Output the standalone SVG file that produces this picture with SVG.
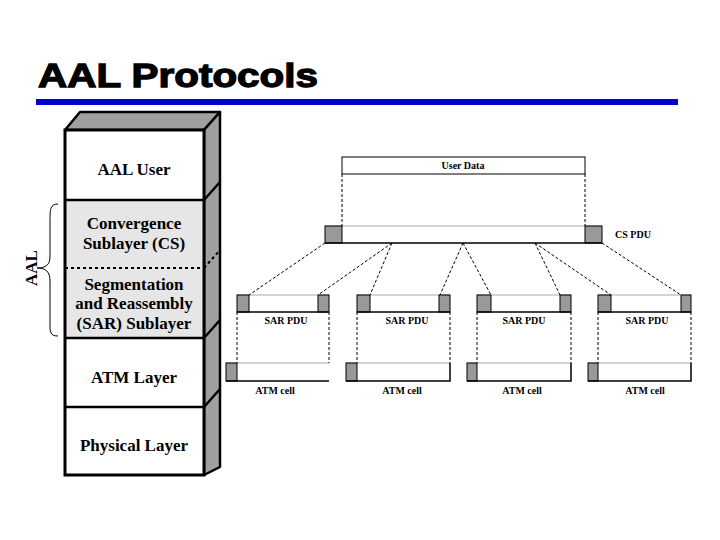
<svg xmlns="http://www.w3.org/2000/svg" width="720" height="540" viewBox="0 0 720 540">
<style>
.title{font-family:"Liberation Sans",Arial,sans-serif;font-weight:bold;font-size:34px;fill:#000;stroke:#000;stroke-width:1.3}
.lbl{font-family:"Liberation Serif","Times New Roman",serif;font-weight:bold;font-size:17px;fill:#000;text-anchor:middle}
.sm{font-family:"Liberation Serif","Times New Roman",serif;font-weight:bold;font-size:10px;fill:#000;text-anchor:middle}
.side{fill:#a0a0a0;stroke:#000;stroke-width:2.5;stroke-linejoin:round}
.div{stroke:#000;stroke-width:2.5}
.dot{stroke:#000;stroke-width:2;stroke-dasharray:3,3}
.dash{stroke:#000;stroke-width:1;stroke-dasharray:3,2;fill:none}
.gray{fill:#999;stroke:#000;stroke-width:1}
.top{stroke:#aaa;stroke-width:1.2}
.edge{fill:none;stroke:#000;stroke-width:1.5}
</style>
<rect width="720" height="540" fill="#fff"/>
<text class="title" x="38" y="87" textLength="280" lengthAdjust="spacingAndGlyphs">AAL Protocols</text>
<rect x="36" y="99" width="642" height="6" fill="#0000cc"/>

<g id="stack">
  <polygon class="side" points="65,130 80,112 220,112 204,130"/>
  <polygon class="side" points="204,130 220,112 220,467 204,475"/>
  <rect x="65" y="130" width="139" height="70" fill="#fff"/>
  <rect x="65" y="200" width="139" height="138" fill="#e6e6e6"/>
  <rect x="65" y="338" width="139" height="137" fill="#fff"/>
  <line class="div" x1="65" y1="200" x2="204" y2="200"/>
  <line class="div" x1="204" y1="200" x2="220" y2="182"/>
  <line class="dot" x1="65" y1="268" x2="204" y2="268"/>
  <line class="dot" x1="204" y1="268" x2="220" y2="250"/>
  <line class="div" x1="65" y1="338" x2="204" y2="338"/>
  <line class="div" x1="204" y1="338" x2="220" y2="320"/>
  <line class="div" x1="65" y1="407" x2="204" y2="407"/>
  <line class="div" x1="204" y1="407" x2="220" y2="389"/>
  <rect x="65" y="130" width="139" height="345" fill="none" stroke="#000" stroke-width="3"/>
</g>
<g id="aal-user"><text class="lbl" x="134" y="175">AAL User</text></g>
<g id="cs"><text class="lbl" x="134" y="229">Convergence</text><text class="lbl" x="134" y="249">Sublayer (CS)</text></g>
<g id="sar"><text class="lbl" x="134" y="290">Segmentation</text><text class="lbl" x="134" y="309">and Reassembly</text><text class="lbl" x="134" y="329">(SAR) Sublayer</text></g>
<g id="atm-layer"><text class="lbl" x="134" y="383">ATM Layer</text></g>
<g id="phys"><text class="lbl" x="134" y="451">Physical Layer</text></g>
<g id="aal-brace">
  <path d="M58,204 C50,204 50,210 50,220 L50,256 C50,265 46,268 37,268 C46,268 50,272 50,281 L50,324 C50,332 50,336 58,336" fill="none" stroke="#000" stroke-width="1"/>
  <text class="lbl" x="0" y="0" transform="translate(37,268) rotate(-90)">AAL</text>
</g>

<g id="user-data">
  <rect x="342" y="157" width="243" height="17" fill="#fff" stroke="#000" stroke-width="1"/>
  <text class="sm" x="463" y="169">User Data</text>
</g>
<g id="cs-pdu">
  <rect x="325" y="226" width="277" height="17" fill="#fff"/>
  <line class="top" x1="325" y1="226" x2="602" y2="226"/>
  <rect class="gray" x="325" y="226" width="17" height="17"/>
  <rect class="gray" x="585" y="226" width="17" height="17"/>
  <line x1="325" y1="243" x2="602" y2="243" stroke="#000" stroke-width="1.5"/>
  <text class="sm" x="633" y="238">CS PDU</text>
</g>

<g id="sar1">
  <rect x="237" y="295" width="92" height="17" fill="#fff"/>
  <line class="top" x1="237" y1="295" x2="329" y2="295"/>
  <rect class="gray" x="237" y="295" width="12" height="17"/>
  <rect class="gray" x="318" y="295" width="11" height="17"/>
  <line x1="237" y1="312" x2="329" y2="312" stroke="#000" stroke-width="1.5"/>
  <text class="sm" x="286" y="324">SAR PDU</text>
</g>
<g id="sar2">
  <rect x="357" y="295" width="93" height="17" fill="#fff"/>
  <line class="top" x1="357" y1="295" x2="450" y2="295"/>
  <rect class="gray" x="357" y="295" width="13" height="17"/>
  <rect class="gray" x="439" y="295" width="11" height="17"/>
  <line x1="357" y1="312" x2="450" y2="312" stroke="#000" stroke-width="1.5"/>
  <text class="sm" x="407" y="324">SAR PDU</text>
</g>
<g id="sar3">
  <rect x="477" y="295" width="94" height="17" fill="#fff"/>
  <line class="top" x1="477" y1="295" x2="571" y2="295"/>
  <rect class="gray" x="477" y="295" width="14" height="17"/>
  <rect class="gray" x="560" y="295" width="11" height="17"/>
  <line x1="477" y1="312" x2="571" y2="312" stroke="#000" stroke-width="1.5"/>
  <text class="sm" x="524" y="324">SAR PDU</text>
</g>
<g id="sar4">
  <rect x="598" y="295" width="93" height="17" fill="#fff"/>
  <line class="top" x1="598" y1="295" x2="691" y2="295"/>
  <rect class="gray" x="598" y="295" width="13" height="17"/>
  <rect class="gray" x="681" y="295" width="10" height="17"/>
  <line x1="598" y1="312" x2="691" y2="312" stroke="#000" stroke-width="1.5"/>
  <text class="sm" x="647" y="324">SAR PDU</text>
</g>

<g id="cell1">
  <rect x="226" y="363" width="103" height="18" fill="#fff"/>
  <line class="top" x1="226" y1="363" x2="329" y2="363"/>
  <rect class="gray" x="226" y="363" width="11" height="18"/>
  <line x1="226" y1="381" x2="329" y2="381" stroke="#000" stroke-width="1.5"/>
  <text class="sm" x="275" y="394">ATM cell</text>
</g>
<g id="cell2">
  <rect x="346" y="363" width="104" height="18" fill="#fff"/>
  <line class="top" x1="346" y1="363" x2="450" y2="363"/>
  <rect class="gray" x="346" y="363" width="11" height="18"/>
  <polyline class="edge" points="346,381 450,381 450,363"/>
  <text class="sm" x="402" y="394">ATM cell</text>
</g>
<g id="cell3">
  <rect x="467" y="363" width="104" height="18" fill="#fff"/>
  <line class="top" x1="467" y1="363" x2="571" y2="363"/>
  <rect class="gray" x="467" y="363" width="10" height="18"/>
  <polyline class="edge" points="467,381 571,381 571,363"/>
  <text class="sm" x="522" y="394">ATM cell</text>
</g>
<g id="cell4">
  <rect x="588" y="363" width="103" height="18" fill="#fff"/>
  <line class="top" x1="588" y1="363" x2="691" y2="363"/>
  <rect class="gray" x="588" y="363" width="10" height="18"/>
  <polyline class="edge" points="588,381 691,381 691,363"/>
  <text class="sm" x="645" y="394">ATM cell</text>
</g>

<g id="connectors">
  <line class="dash" x1="342" y1="174" x2="342" y2="226"/>
  <line class="dash" x1="585" y1="174" x2="585" y2="226"/>
  <line class="dash" x1="325" y1="243" x2="249" y2="295"/>
  <line class="dash" x1="392" y1="243" x2="318" y2="295"/>
  <line class="dash" x1="392" y1="243" x2="370" y2="295"/>
  <line class="dash" x1="463" y1="243" x2="440" y2="295"/>
  <line class="dash" x1="463" y1="243" x2="491" y2="295"/>
  <line class="dash" x1="535" y1="243" x2="560" y2="295"/>
  <line class="dash" x1="535" y1="243" x2="611" y2="295"/>
  <line class="dash" x1="602" y1="243" x2="681" y2="295"/>
  <line class="dash" x1="237" y1="312" x2="237" y2="363"/>
  <line class="dash" x1="329" y1="312" x2="329" y2="363"/>
  <line class="dash" x1="357" y1="312" x2="357" y2="363"/>
  <line class="dash" x1="450" y1="312" x2="450" y2="363"/>
  <line class="dash" x1="477" y1="312" x2="477" y2="363"/>
  <line class="dash" x1="571" y1="312" x2="571" y2="363"/>
  <line class="dash" x1="598" y1="312" x2="598" y2="363"/>
  <line class="dash" x1="691" y1="312" x2="691" y2="363"/>
</g>
</svg>
